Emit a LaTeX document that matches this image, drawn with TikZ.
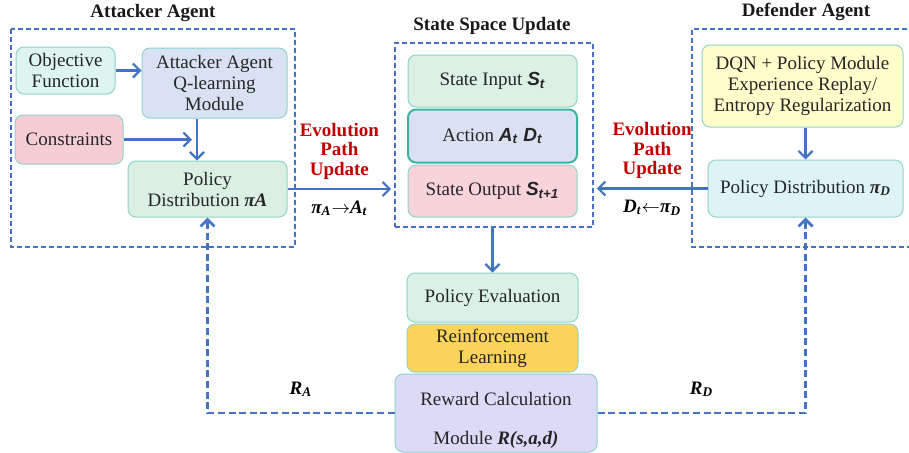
\documentclass[tikz,border=0pt]{standalone}
\usepackage{fontspec}
\setmainfont{Liberation Serif}
\newfontfamily\arialfont{Liberation Sans}
\usetikzlibrary{arrows.meta,positioning}

\definecolor{lineblue}{HTML}{4472C4}
\definecolor{evored}{HTML}{C00000}
\definecolor{edgeteal}{HTML}{8FD3C9}
\definecolor{objfill}{HTML}{DDF4F0}
\definecolor{qfill}{HTML}{D9E2F3}
\definecolor{consfill}{HTML}{F5CDD5}
\definecolor{polAfill}{HTML}{DBF0E3}
\definecolor{sinfill}{HTML}{DDF0E4}
\definecolor{actfill}{HTML}{D9E1F3}
\definecolor{actedge}{HTML}{3BB39E}
\definecolor{soutfill}{HTML}{F8D3DA}
\definecolor{dqnfill}{HTML}{FFFFCC}
\definecolor{polDfill}{HTML}{DEF3F5}
\definecolor{pefill}{HTML}{DCF1E6}
\definecolor{rlfill}{HTML}{FCD35B}
\definecolor{rewfill}{HTML}{DCDAF7}

\newcommand{\bi}[1]{\textbf{\textit{#1}}}
\newcommand{\sbi}[1]{{\arialfont\bfseries\itshape #1}}

\begin{document}
\begin{tikzpicture}[x=0.5pt, y=-0.5pt, >={Straight Barb[length=3.5pt,width=7pt]},
        font=\fontsize{9.5}{10.5}\selectfont,
        box/.style={draw=edgeteal, rounded corners=4pt, align=center, line width=0.5pt, text=black!85, inner sep=2pt},
        group/.style={draw=lineblue, dash pattern=on 2.5pt off 1.5pt, line width=0.8pt},
        flow/.style={->, draw=lineblue, line width=1.1pt},
        fb/.style={->, draw=lineblue, line width=1.4pt, dash pattern=on 3.5pt off 1.8pt},
        title/.style={font=\fontsize{9.5}{10}\selectfont\bfseries, text=black!90},
        evo/.style={text=evored, font=\fontsize{9.5}{9.7}\selectfont\bfseries, align=center}]

        \useasboundingbox (0,0) rectangle (909,452);

        % titles and groups
        \node[title] (atitle) at (153,13) {Attacker Agent};
        \node[title] (stitle) at (492,26) {State Space Update};
        \node[title] (dtitle) at (806,12) {Defender Agent};
        \draw[group] (11,29) rectangle (295,247);
        \node[group, minimum width=99pt, minimum height=92pt] (stbox) at (494,135) {};
        \draw[group] (915,29) -| (692,247) -- (915,247);

        % attacker
        \node (obj) [box, fill=objfill, minimum width=49.5pt, minimum height=23.5pt] at (65.5,70.5) {Objective\\Function};
        \node (qmod) [box, fill=qfill, minimum width=72.5pt, minimum height=35pt] at (214.5,83) {Attacker Agent\\Q-learning\\Module};
        \node (cons) [box, fill=consfill, minimum width=54pt, minimum height=24.5pt] at (69,139.5) {Constraints};
        \node (polA) [box, fill=polAfill, minimum width=79.5pt, minimum height=28pt] at (207.5,189) {Policy\\Distribution \bi{πA}};
        \coordinate (cjoin) at (192,139.5);

        % state space
        \node (sin) [box, fill=sinfill, minimum width=84.5pt, minimum height=26pt] at (492.5,81) {State Input \sbi{S\textsubscript{t}}};
        \node (act) [box, fill=actfill, draw=actedge, line width=1pt, minimum width=84.5pt, minimum height=26.5pt, below=0.5pt of sin] {Action \sbi{A\textsubscript{t} D\textsubscript{t}}};
        \node (sout) [box, fill=soutfill, minimum width=84.5pt, minimum height=26pt, below=0.5pt of act] {State Output \sbi{S\textsubscript{t+1}}};

        % defender
        \node (dqn) [box, fill=dqnfill, minimum width=100.5pt, minimum height=41pt] at (802.5,86) {DQN + Policy Module\\Experience Replay/\\Entropy Regularization};
        \node (polD) [box, fill=polDfill, minimum width=97.5pt, minimum height=28.5pt] at (805.5,188.5) {Policy Distribution \bi{π\textsubscript{D}}};

        % evaluation stack
        \node (pe) [box, fill=pefill, minimum width=85.5pt, minimum height=24.5pt] at (492.5,297.5) {Policy Evaluation};
        \node (rl) [box, fill=rlfill, minimum width=85.5pt, minimum height=24pt, below=0.5pt of pe] {Reinforcement\\Learning};
        \node (rew) [box, fill=rewfill, inner ysep=0pt, minimum width=101pt, minimum height=39pt, below=0.5pt of rl, xshift=1.75pt] {\rule{0pt}{14pt}Reward Calculation\\[9pt]Module \bi{R(s,a,d)}};

        \draw[flow] (obj.east) -- (obj.east -| qmod.west);
        \draw[flow] (cons.east) -- (cjoin);
        \draw[flow] ([xshift=-8.75pt]qmod.south) -- ([xshift=-8.75pt]qmod.south |- polA.north);
        \draw[flow] (dqn.south -| polD.north) -- (polD.north);

        % evolution path update
        \draw[flow] (polA.east) -- ([xshift=-1.5pt]polA.east -| stbox.west)
            node [midway, above=1pt, evo] {Evolution\\Path\\Update}
            node [midway, below=2pt] {\bi{π\textsubscript{A}}$\rightarrow$\bi{A\textsubscript{t}}};
        \draw[flow] (polD.west) -- ([xshift=1.5pt]polD.west -| stbox.east)
            node [midway, above=1pt, evo] {Evolution\\Path\\Update}
            node [midway, below=2pt] {\bi{D\textsubscript{t}}$\leftarrow$\bi{π\textsubscript{D}}};
        \draw[flow] (stbox.south -| pe.north) -- (pe.north);

        % reward feedback
        \draw[fb] (rew.west) -| (polA.south)
            node [pos=0.25, above=4pt] {\bi{R\textsubscript{A}}};
        \draw[fb] (rew.east) -| (polD.south)
            node [pos=0.25, above=4pt] {\bi{R\textsubscript{D}}};
    \end{tikzpicture}
\end{document}
